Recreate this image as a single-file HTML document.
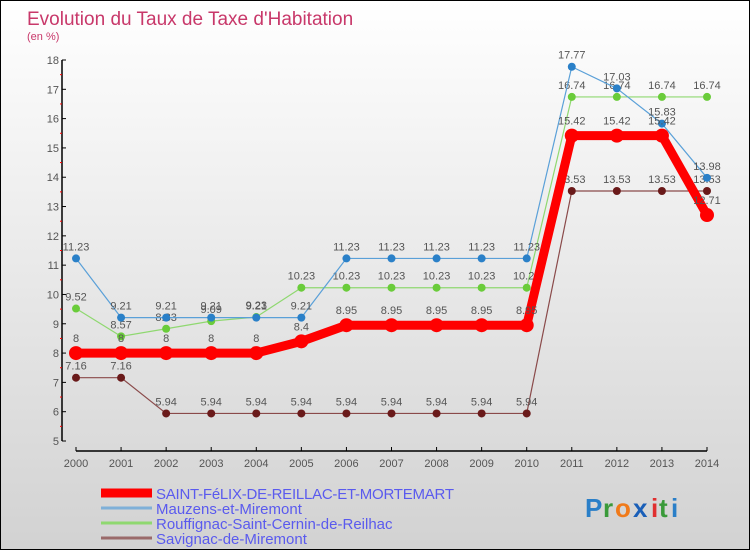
<!DOCTYPE html>
<html><head><meta charset="utf-8"><style>
body{margin:0}
#c{position:relative;width:748px;height:548px;border:1px solid #000;background:linear-gradient(#fff,#d2d2d2);font-family:"Liberation Sans",sans-serif;overflow:hidden}
</style></head><body>
<div id="c">
<svg id="s" width="748" height="548" xmlns="http://www.w3.org/2000/svg">
<text x="26" y="24" font-size="19" fill="#c8386a">Evolution du Taux de Taxe d'Habitation</text>
<text x="26" y="39" font-size="11" fill="#c8386a">(en %)</text>
<g id="axes"></g><g id="series"></g><g id="legend"></g>
<g font-size="26" font-weight="bold">
<text x="584" y="516" fill="#2a7fc8">P</text><text x="602" y="516" fill="#3a9a3a">r</text><text x="614" y="516" fill="#f07a1a">o</text><text x="632" y="516" fill="#1a5fb8">x</text><text x="650" y="516" fill="#e03030">i</text><text x="658" y="516" fill="#3a9a3a">t</text><text x="670" y="516" fill="#2a7fc8">i</text>
</g>
</svg>
</div>
<script>
const years=[2000,2001,2002,2003,2004,2005,2006,2007,2008,2009,2010,2011,2012,2013,2014];
const yTicks=[5,6,7,8,9,10,11,12,13,14,15,16,17,18];
const seriesNames=["SAINT-FéLIX-DE-REILLAC-ET-MORTEMART","Mauzens-et-Miremont","Rouffignac-Saint-Cernin-de-Reilhac","Savignac-de-Miremont"];
const saintFelix=[8,8,8,8,8,8.4,8.95,8.95,8.95,8.95,8.95,15.42,15.42,15.42,12.71];
const mauzens=[11.23,9.21,9.21,9.21,9.21,9.21,11.23,11.23,11.23,11.23,11.23,17.77,17.03,15.83,13.98];
const rouffignac=[9.52,8.57,8.83,9.09,9.23,10.23,10.23,10.23,10.23,10.23,10.23,16.74,16.74,16.74,16.74];
const savignac=[7.16,7.16,5.94,5.94,5.94,5.94,5.94,5.94,5.94,5.94,5.94,13.53,13.53,13.53,13.53];
const NS="http://www.w3.org/2000/svg";
const x=i=>75+i*(706-75)/(years.length-1);
const y=v=>440-(v-5)*(440-59)/13;
function mk(tag,attrs,parent){const e=document.createElementNS(NS,tag);for(const k in attrs)e.setAttribute(k,attrs[k]);parent.appendChild(e);return e;}
const axes=document.getElementById('axes');
let a=mk('line',{x1:61,y1:59,x2:61,y2:440,stroke:'#000','stroke-width':1.5},axes);


a=mk('line',{x1:75,y1:450,x2:706,y2:450,stroke:'#000','stroke-width':1.5},axes);


yTicks.forEach(v=>{
 mk('line',{x1:61,y1:y(v),x2:65,y2:y(v),stroke:'#000'},axes);
 if(v<18)mk('line',{x1:59,y1:y(v+0.5),x2:61,y2:y(v+0.5),stroke:'#f00'},axes);
 const t=mk('text',{x:58,y:y(v)+4,'text-anchor':'end','font-size':11,fill:'#555'},axes);t.textContent=v;
 
 
});
years.forEach((yr,i)=>{
 mk('line',{x1:x(i),y1:446,x2:x(i),y2:450,stroke:'#000'},axes);
 const t=mk('text',{x:x(i),y:466,'text-anchor':'middle','font-size':11,fill:'#555'},axes);t.textContent=yr;
 
 
});
const sg=document.getElementById('series');
function draw(vals,color,pcolor,w,r,name){
 const g=mk('g',{},sg);
 
 
 mk('polyline',{points:vals.map((v,i)=>x(i)+','+y(v)).join(' '),fill:'none',stroke:color,'stroke-width':w,'stroke-linejoin':'round'},g);
 vals.forEach((v,i)=>{
  const c=mk('circle',{cx:x(i),cy:y(v),r:r,fill:pcolor},g);
  
  
  const t=mk('text',{x:x(i),y:y(v)-8-(r>5?3:0),'text-anchor':'middle','font-size':11,fill:'#555'},g);t.textContent=v;
  
  
 });
}
draw(savignac,'#8a4a4a','#6a1a1a',1.2,4,'series-savignac');
draw(rouffignac,'#8fd870','#6acc3a',1.2,4,'series-rouffignac');
draw(mauzens,'#5aa0d8','#2a80c8',1.2,4,'series-mauzens');
draw(saintFelix,'#f00','#f00',9,7,'series-saint-felix');
const lg=document.getElementById('legend');
const lc=['#f00','#7fb0d8','#8fd870','#9a6a6a'],lw=[9,3,3,3],ly=[492,507,522,537];
seriesNames.forEach((n,i)=>{
 const g=mk('g',{},lg);
 
 
 mk('line',{x1:100,y1:ly[i],x2:151,y2:ly[i],stroke:lc[i],'stroke-width':lw[i]},g);
 const t=mk('text',{x:155,y:ly[i]+6,'font-size':15,fill:'#5a5aee',textLength:i==0?298:0},g);t.textContent=n;
 if(i!==0)t.removeAttribute('textLength');
});
</script>
</body></html>
